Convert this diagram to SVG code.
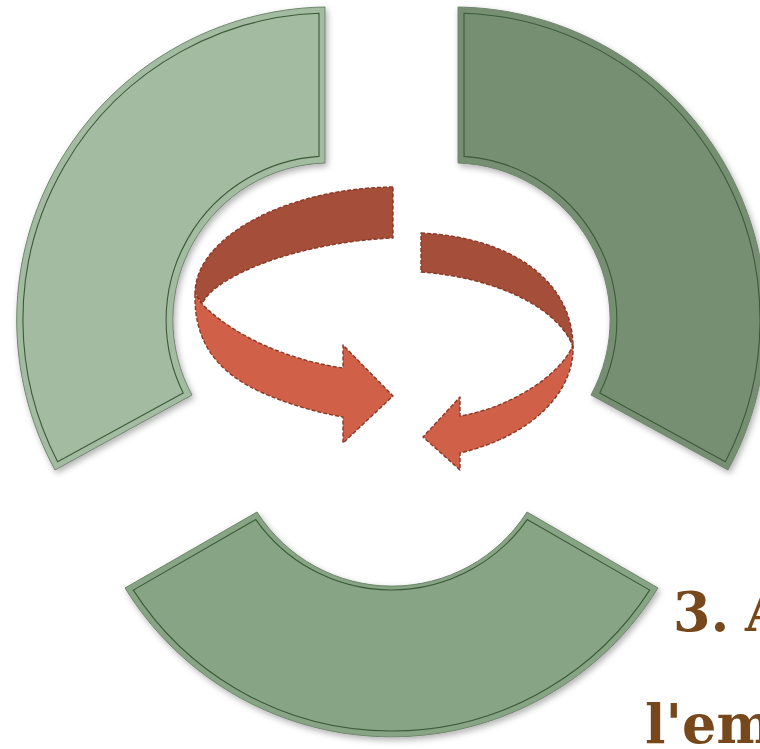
<svg xmlns="http://www.w3.org/2000/svg" width="760" height="749" viewBox="0 0 760 749">
  <defs>
    <filter id="shadow" x="-10%" y="-10%" width="120%" height="120%">
      <feDropShadow dx="2" dy="3" stdDeviation="3" flood-color="#000" flood-opacity="0.3"/>
    </filter>
  </defs>
  <style>
    .seg-edge { stroke: #6f866d; stroke-width: 1; }
    .seg-line { fill: none; stroke: #3b5a38; stroke-width: 1.1; }
    .back { fill: #a54e39; stroke: #8a3826; stroke-width: 1.4; stroke-dasharray: 4 2; stroke-linejoin: round; }
    .front { fill: #d06148; stroke: #8a3826; stroke-width: 1.4; stroke-dasharray: 4 2; stroke-linejoin: round; }
    .label { font-family: "DejaVu Serif", "Liberation Serif", serif; font-weight: bold; font-size: 54px; fill: #77481c; }
  </style>
  <rect width="760" height="749" fill="#ffffff"/>

  <g id="segment-top-left" filter="url(#shadow)">
    <path d="M 325,7 A 313 313 0 0 0 55,470 L 192,395 A 157 157 0 0 1 325,163 Z" fill="#a3bba0" class="seg-edge"/>
    <path d="M 319,13.2 A 307 307 0 0 0 57.6,461.7 L 183.2,392.9 A 164 164 0 0 1 319,156.4 Z" class="seg-line"/>
  </g>

  <g id="segment-top-right" filter="url(#shadow)">
    <path d="M 458,7 A 313 313 0 0 1 728,470 L 591,395 A 157 157 0 0 0 458,163 Z" fill="#768e72" class="seg-edge"/>
    <path d="M 464,13.2 A 307 307 0 0 1 725.4,461.7 L 599.8,392.9 A 164 164 0 0 0 464,156.4 Z" class="seg-line"/>
  </g>

  <g id="segment-bottom" filter="url(#shadow)">
    <path d="M 125,588 A 313 313 0 0 0 658,588 L 527,512 A 160 160 0 0 1 257,512 Z" fill="#87a584" class="seg-edge"/>
    <path d="M 133.3,590.1 A 307 307 0 0 0 649.7,590.1 L 527.2,519.6 A 166 166 0 0 1 255.8,519.6 Z" class="seg-line"/>
  </g>

  <g id="connectors">
    <g id="arrow-left">
      <path class="back" d="M 393,187 C 290,188 196,235 195,293 L 202,304 C 215,275 300,242 393,238 Z"/>
      <path class="front" d="M 195,294 C 194,340 215,372 263,393 C 290,405 320,413 343,417 L 343,443 L 393,396 L 343,345 L 343,368 C 300,362 240,342 202,304 Z"/>
    </g>
    <g id="arrow-right">
      <path class="back" d="M 421,233 C 510,237 573,280 573,347 C 560,310 500,278 421,272 Z"/>
      <path class="front" d="M 573,345 C 575,390 535,435 460,453 L 460,470 L 423,437 L 460,397 L 460,416 C 510,408 560,375 572,347 Z"/>
    </g>
  </g>

  <g id="label">
    <text class="label" x="673" y="631">3.</text>
    <text class="label" x="745" y="631">A</text>
    <text class="label" x="645" y="743">l'em</text>
  </g>
</svg>
